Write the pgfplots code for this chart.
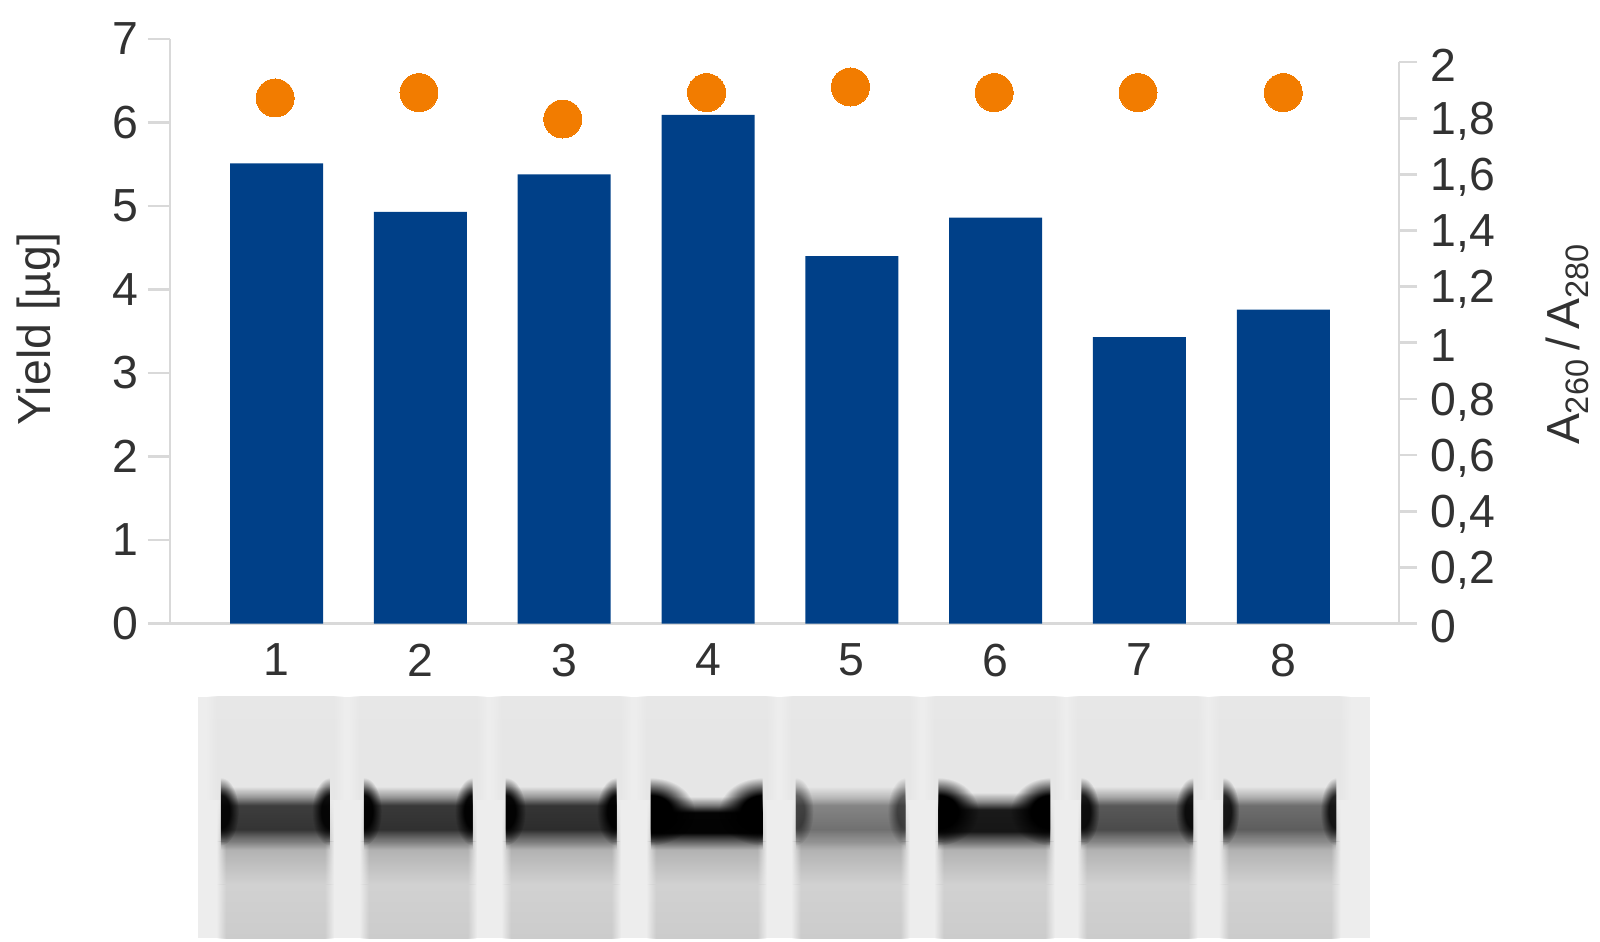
\documentclass[border=0pt]{standalone}
\usepackage{fontspec}
\setmainfont{Liberation Sans}
\usepackage{pgfplots}
\pgfplotsset{compat=1.18}
\usetikzlibrary{fadings}

\definecolor{barblue}{RGB}{0,64,136}
\definecolor{dotorange}{RGB}{242,124,0}
\definecolor{axisgray}{RGB}{217,217,217}
\definecolor{txt}{RGB}{50,50,50}

% fadings for the gel strip
\pgfdeclareverticalshading{bandv}{100bp}{color(0bp)=(black); color(25bp)=(black); color(33bp)=(white!45!black); color(41bp)=(white); color(60bp)=(white); color(67bp)=(white!45!black); color(75bp)=(black); color(100bp)=(black)}
\pgfdeclarefading{bandfade}{\pgfuseshading{bandv}}
\pgfdeclarehorizontalshading{softh}{100bp}{color(0bp)=(black); color(25bp)=(black); color(29bp)=(white); color(71bp)=(white); color(75bp)=(black); color(100bp)=(black)}
\pgfdeclarefading{softsides}{\pgfuseshading{softh}}
\pgfdeclareradialshading{blob}{\pgfpoint{0bp}{0bp}}{color(0bp)=(white); color(12bp)=(white); color(25bp)=(black); color(50bp)=(black)}
\pgfdeclarefading{blobfade}{\pgfuseshading{blob}}

\begin{document}
\begin{tikzpicture}
\path[use as bounding box] (0,0) rectangle (16cm,-9.41cm);

% gel image, coordinates in reference pixels
\begin{scope}[x=0.01cm,y=-0.01cm]
\fill[gray!14] (198,697) rectangle (1371,939);
% lane: left, right, band centre opacity, band edge opacity, band top, edge blob x radius
\foreach \l/\r/\c/\e/\t/\w in {221/330/0.72/0.90/787/18, 364/473/0.74/0.95/787/18, 506/617/0.76/0.95/787/20, 651/763/0.98/1.0/797/44, 796/906/0.40/0.50/787/18, 939/1051/0.88/1.0/793/40, 1082/1194/0.60/0.85/787/18, 1224/1337/0.50/0.80/787/16}{
  \shade[top color=gray!19,bottom color=gray!20,path fading=softsides] (\l-14,697) rectangle (\r+14,800);
  \shade[top color=gray!20,bottom color=gray!66,path fading=softsides] (\l-4,800) rectangle (\r+4,842);
  \shade[top color=gray!66,bottom color=gray!36,path fading=softsides] (\l-4,842) rectangle (\r+4,885);
  \shade[top color=gray!36,bottom color=gray!40,path fading=softsides] (\l-4,885) rectangle (\r+4,939);
  \fill[black,opacity=\c,path fading=bandfade] (\l,\t) rectangle (\r,850);
  \begin{scope}
    \clip (\l,770) rectangle (\r,860);
    \fill[black,opacity=\e,path fading=blobfade] (\l,812) ellipse (\w cm*0.01 and 0.34cm);
    \fill[black,opacity=\e,path fading=blobfade] (\r,812) ellipse (\w cm*0.01 and 0.34cm);
  \end{scope}
}
\end{scope}

% bars and left axis
\begin{axis}[
  at={(1.70cm,-6.235cm)},anchor=origin,
  scale only axis,width=12.29cm,height=5.845cm,
  xmin=0.2587,xmax=8.805,ymin=0,ymax=7,
  axis y line*=left,axis x line*=bottom,
  axis line style={axisgray,line width=0.8pt,-},
  ytick={0,...,7},xtick={1,...,8},
  tick style={axisgray,line width=0.8pt},
  ytick style={/pgfplots/major tick length=0.22cm},
  xtick style={/pgfplots/major tick length=0pt},
  tick align=outside,
  ticklabel style={font=\fontsize{13.2}{16}\selectfont,text=txt},
  /pgf/number format/assume math mode=true,
  yticklabel style={xshift=-0.04cm},
  xticklabel style={yshift=0.07cm},
  ylabel={Yield [µg]},
  ylabel style={font=\fontsize{13.2}{16}\selectfont,text=txt,at={(axis description cs:-0.1066,0.504)},anchor=center,rotate=0},
]
\addplot[ybar,bar width=0.93cm,bar shift=0pt,fill=barblue,draw=none] coordinates {
(1,5.51) (2,4.93) (3,5.38) (4,6.09) (5,4.40) (6,4.86) (7,3.43) (8,3.76)};
\end{axis}

% A260/A280 dots and right axis
\begin{axis}[
  at={(1.70cm,-6.235cm)},anchor=origin,
  scale only axis,width=12.29cm,height=5.615cm,
  xmin=0.2587,xmax=8.805,ymin=0,ymax=2,
  axis y line*=right,axis x line=none,
  axis line style={axisgray,line width=0.8pt,-},
  ytick={0,0.2,...,2.01},
  tick style={axisgray,line width=0.8pt},
  ytick style={/pgfplots/major tick length=0.18cm},
  tick align=outside,
  ticklabel style={font=\fontsize{13.2}{16}\selectfont,text=txt},
  /pgf/number format/assume math mode=true,
  /pgf/number format/use comma,
  /pgf/number format/fixed,
  /pgf/number format/precision=1,
  yticklabel style={xshift=0.04cm,yshift=-0.03cm},
  ylabel={A\textsubscript{260}\,/\,A\textsubscript{280}},
  ylabel style={font=\fontsize{13.2}{16}\selectfont,text=txt,at={(axis description cs:1.137,0.498)},anchor=center,rotate=0},
]
\addplot[only marks,mark=*,mark size=0.19cm,mark options={fill=dotorange,draw=dotorange,line width=0pt}] coordinates {
(0.99,1.872) (1.99,1.891) (2.99,1.797) (3.99,1.891) (4.99,1.911) (5.99,1.891) (6.99,1.891) (8.00,1.891)};
\end{axis}
\end{tikzpicture}
\end{document}
